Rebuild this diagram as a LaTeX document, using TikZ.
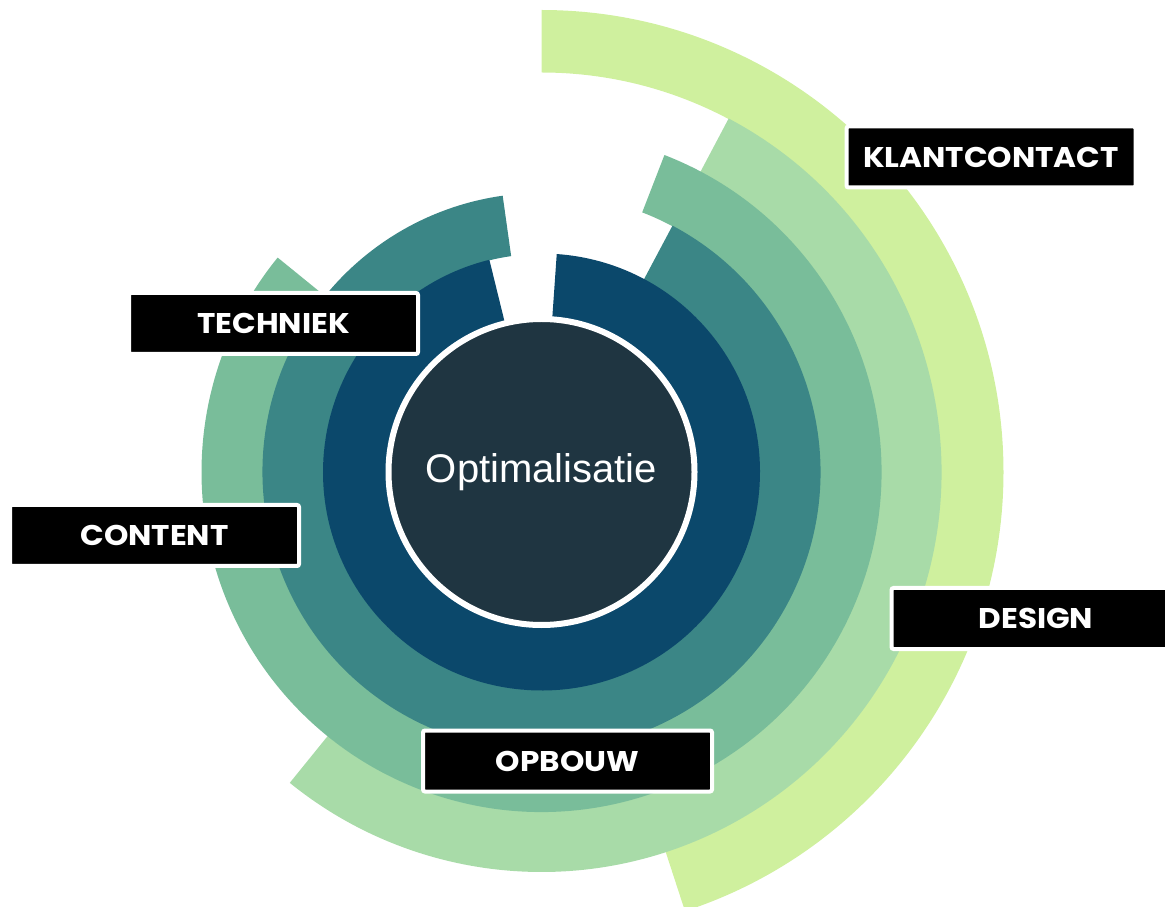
\documentclass[tikz,border=0pt]{standalone}
\usepackage{fontspec}
\setmainfont{Liberation Sans}
\newfontfamily\labfont{Poppins}[FakeStretch=1.09]
\definecolor{ringA}{HTML}{0B486B}
\definecolor{ringB}{HTML}{3B8686}
\definecolor{ringC}{HTML}{79BD9A}
\definecolor{ringD}{HTML}{A8DBA8}
\definecolor{ringE}{HTML}{CFF09E}
\definecolor{coreclr}{HTML}{1F3541}
\newcommand\ringseg[5]{%
  \fill[#1] ([shift={(C)}]#4:#3) arc[start angle=#4, end angle=#5, radius=#3]
    -- ([shift={(C)}]#5:#2) arc[start angle=#5, end angle=#4, radius=#2] -- cycle;}
\tikzset{
  labelbox/.style={fill=black, draw=white, line width=4pt, rounded corners=2pt,
    minimum width=289pt, minimum height=61pt, inner sep=0pt,
    text=white, font=\labfont\bfseries\fontsize{28.5pt}{30pt}\selectfont},
  core/.style={circle, fill=coreclr, draw=white, line width=6pt, minimum size=306pt,
    inner sep=0pt}
}
\begin{document}
\begin{tikzpicture}[x=1pt,y=1pt]
\useasboundingbox (0,0) rectangle (1165,906);
\coordinate (C) at (541.5,434);
\ringseg{ringE}{399.5pt}{462pt}{90}{-71.9}
\ringseg{ringD}{339.5pt}{400pt}{62.1}{-129}
\ringseg{ringC}{278.5pt}{340pt}{68.8}{-219.1}
\ringseg{ringB}{218pt}{279pt}{62}{-262}
\ringseg{ringA}{150pt}{218.5pt}{86}{-256.2}
\node[core] (core) at (C) {};
\node[anchor=base, text=white, font=\fontsize{40pt}{42pt}\selectfont] (coretext) at (541.5,423) {Optimalisatie};
\node[labelbox] (klant) at (991,749) {KLANTCONTACT};
\node[labelbox] (techniek) at (273.5,582.5) {TECHNIEK};
\node[labelbox] (content) at (154.5,370.5) {CONTENT};
\node[labelbox] (design) at (1036,287.5) {DESIGN};
\node[labelbox] (opbouw) at (567.5,145) {OPBOUW};
\end{tikzpicture}
\end{document}
